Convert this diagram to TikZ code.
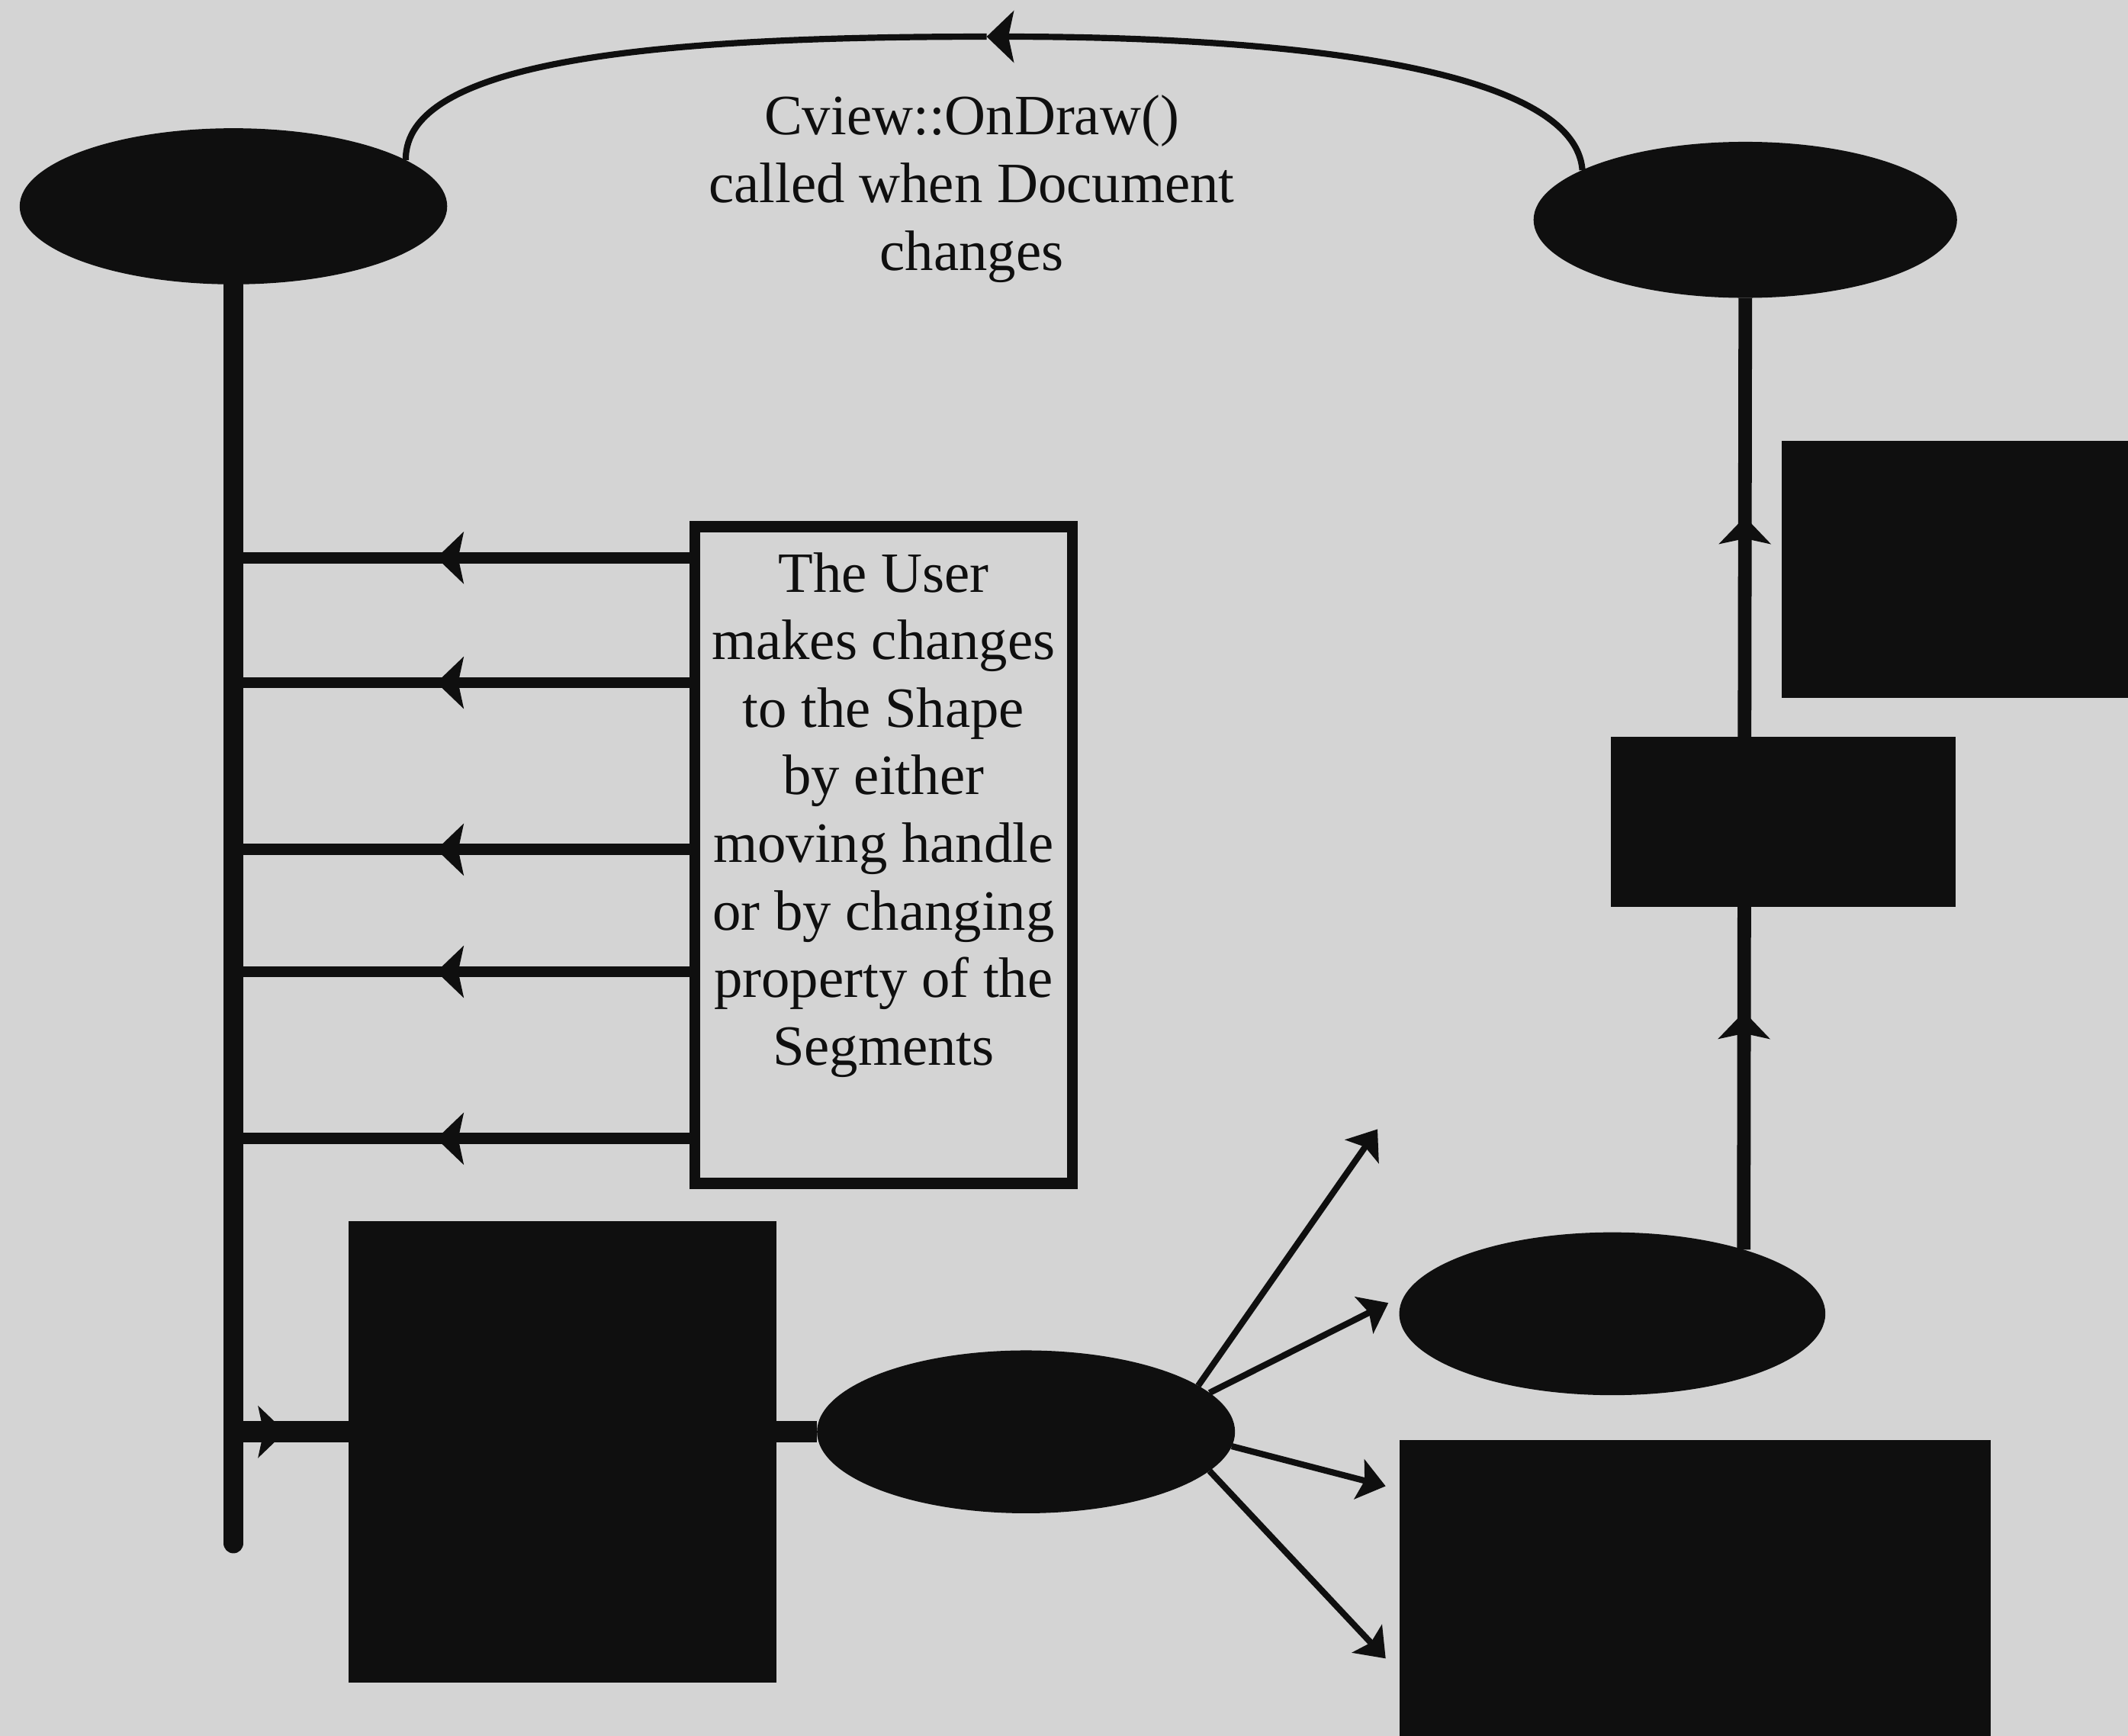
\documentclass[tikz,border=0pt]{standalone}
\usepackage{fontspec}
\setmainfont{Liberation Serif}
\usetikzlibrary{arrows.meta,decorations.markings,shapes.geometric}
\definecolor{bgc}{gray}{0.83}
\definecolor{ink}{gray}{0.06}
\begin{document}
\begin{tikzpicture}[x=0.5pt,y=-0.5pt,
  >={Stealth[length=10pt,width=19pt,inset=2pt]},
  fantip/.style={-{Stealth[length=10pt,width=15pt,inset=2pt]}},
  blob/.style={ellipse,fill=ink,draw=none,inner sep=0pt,outer sep=0pt},
  slab/.style={rectangle,fill=ink,draw=none,inner sep=0pt,outer sep=0pt},
  txt/.style={font=\fontsize{21pt}{25pt}\selectfont,text=ink},
  thinline/.style={draw=ink,line width=2.3pt},
  hline/.style={draw=ink,line width=4.2pt},
  vline/.style={draw=ink,line width=7.5pt,line cap=round},
  rline/.style={draw=ink,line width=5pt},
  midarrow/.style={postaction={decorate},decoration={markings,mark=at position #1 with {\arrow{>}}}},
  twoarrows/.style 2 args={postaction={decorate},decoration={markings,mark=at position #1 with {\arrow{>}},mark=at position #2 with {\arrow{>}}}}
]
\useasboundingbox (0,0) rectangle (1568,1279);
\fill[bgc] (0,0) rectangle (1568,1279);

% ellipses
\node[blob,minimum width=157.5pt,minimum height=57.5pt] (tl) at (172,152) {};
\node[blob,minimum width=156pt,minimum height=57.5pt] (tr) at (1286,162) {};
\node[blob,minimum width=154pt,minimum height=60pt] (lm) at (756,1055) {};
\node[blob,minimum width=157pt,minimum height=60pt] (rm) at (1188,968) {};

% rectangles
\node[slab,minimum width=157.5pt,minimum height=170pt] (lrect) at (414.5,1070) {};
\node[slab,minimum width=218pt,minimum height=109pt] (rbr) at (1249,1170) {};
\node[slab,minimum width=127.5pt,minimum height=94.5pt] (rur) at (1440.5,419.5) {};

% text box
\node[draw=ink,line width=4pt,fill=bgc,minimum width=139pt,minimum height=242pt,inner sep=0pt,outer sep=0pt,txt] (ubox) at (651,630)
  {\parbox[c][242pt][t]{139pt}{\centering\fontsize{21pt}{24.9pt}\selectfont\vspace*{9.5pt}The User\\makes changes\\to the Shape\\by either\\moving handle\\or by changing\\property of the\\Segments}};

% top label
\node[txt,align=center,inner sep=0pt] (lbl) at (716,139) {Cview::OnDraw()\\called when Document\\changes};

% top arc (from right ellipse to left ellipse)
\coordinate (arcmid) at (727,27);
\draw[thinline,->] (tr.163) .. controls (1160,50) and (950,27) .. (arcmid);
\draw[thinline] (arcmid) .. controls (480,27) and (298,45) .. (tl.15);

% left vertical bar
\coordinate (lbot) at (172,1137);
\draw[vline] (tl.south) -- (lbot);

% horizontal arrows from the text box
\coordinate (h1) at (0,411);
\coordinate (h2) at (0,503);
\coordinate (h3) at (0,626);
\coordinate (h4) at (0,716);
\coordinate (h5) at (0,839);
\foreach \h in {h1,h2,h3,h4,h5}
  \draw[hline,midarrow=0.56] (ubox.west |- \h) -- (tl.south |- \h);

% bottom-left connector
\draw[draw=ink,line width=8pt,midarrow=0.45] (tl.south |- lm.west) -- (lrect.west |- lm.west);
\draw[draw=ink,line width=8pt] (lrect.east |- lm.west) -- (lm.west);

% fan of arrows from the lower ellipse
\coordinate (a1) at (1015,832);
\coordinate (a2) at (1023,960);
\coordinate (a3) at (1021,1095);
\coordinate (a4) at (1021,1222);
\draw[thinline,fantip] (lm.15) -- (a1);
\draw[thinline,fantip] (lm.12) -- (a2);
\draw[thinline,fantip] (lm.-4) -- (a3);
\draw[thinline,fantip] (lm.-12) -- (a4);

% right vertical line
\draw[rline,twoarrows={0.25}{0.77}] (rm.26) -- (tr.south);
\node[slab,minimum width=127pt,minimum height=62.5pt] (rmr) at (1314,605.5) {};
\end{tikzpicture}
\end{document}
